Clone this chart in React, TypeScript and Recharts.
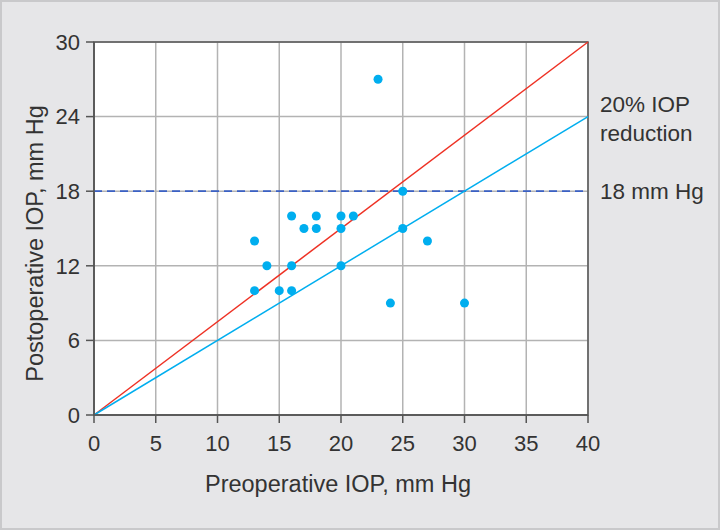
import {
    ScatterChart,
    Scatter,
    XAxis,
    YAxis,
    CartesianGrid,
    ReferenceLine,
    ReferenceArea,
    ReferenceDot,
} from 'recharts';

// preoperative (x) vs postoperative (y) IOP, mm Hg
const preOp = [23, 25, 16, 18, 20, 21, 17, 18, 20, 25, 13, 27, 14, 16, 20, 13, 15, 16, 24, 30];
const postOp = [27, 18, 16, 16, 16, 16, 15, 15, 15, 15, 14, 14, 12, 12, 12, 10, 10, 10, 9, 9];

const xTicks = [0, 5, 10, 15, 20, 25, 30, 35, 40];
const yTicks = [0, 6, 12, 18, 24, 30];

const unchangedLine = [
    { x: 0, y: 0 },
    { x: 40, y: 30 },
];
const reductionLine = [
    { x: 0, y: 0 },
    { x: 40, y: 24 },
];
const thresholdValue = 18;

const points = preOp.map((x, i) => ({ x, y: postOp[i] }));

const font = 'Liberation Sans, Arial, sans-serif';
const textColor = '#333333';
const axisColor = '#555555';
const blue = '#00aeef';
const red = '#ee3124';

const tickStyle = { fontSize: 22, fill: textColor, fontFamily: font };

const YTitle = ({ viewBox }: any) => {
    const x = viewBox.x + 33;
    const y = viewBox.y + viewBox.height / 2 + 15;
    return (
        <text
            x={x}
            y={y}
            transform={`rotate(-90, ${x}, ${y})`}
            textAnchor="middle"
            dominantBaseline="central"
            fontSize={23.5}
            fill={textColor}
            fontFamily={font}
        >
            Postoperative IOP, mm Hg
        </text>
    );
};

const XTitle = ({ viewBox }: any) => (
    <text
        x={viewBox.x + viewBox.width / 2 - 3}
        y={viewBox.y + 69}
        textAnchor="middle"
        dominantBaseline="central"
        fontSize={23.5}
        fill={textColor}
        fontFamily={font}
    >
        Preoperative IOP, mm Hg
    </text>
);

const ReductionLabel = ({ viewBox }: any) => {
    const x = viewBox.x + viewBox.width + 12;
    const y = viewBox.y + viewBox.height / 2;
    return (
        <text fontSize={22.5} fill={textColor} fontFamily={font} dominantBaseline="central">
            <tspan x={x} y={y - 13}>20% IOP</tspan>
            <tspan x={x} y={y + 16}>reduction</tspan>
        </text>
    );
};

const ThresholdLabel = ({ viewBox }: any) => (
    <text
        x={viewBox.x + viewBox.width + 12}
        y={viewBox.y}
        fontSize={22.5}
        fill={textColor}
        fontFamily={font}
        dominantBaseline="central"
    >
        18 mm Hg
    </text>
);

export default function App() {
    return (
        <div
            style={{
                position: 'absolute',
                left: 0,
                top: 0,
                width: 716,
                height: 526,
                border: '2px solid #c9c9cb',
                background: '#e6e6e8',
            }}
        >
            <ScatterChart
                width={716}
                height={526}
                margin={{ top: 40, right: 130, bottom: 0, left: 0 }}
            >
                <CartesianGrid fill="#ffffff" stroke="#b3b3b3" strokeWidth={1.5} />
                <XAxis
                    type="number"
                    dataKey="x"
                    domain={[0, 40]}
                    ticks={xTicks}
                    interval={0}
                    height={113}
                    stroke={axisColor}
                    strokeWidth={1.5}
                    tickSize={8}
                    tickMargin={12}
                    tick={tickStyle}
                    label={XTitle}
                />
                <YAxis
                    type="number"
                    dataKey="y"
                    domain={[0, 30]}
                    ticks={yTicks}
                    interval={0}
                    width={92}
                    stroke={axisColor}
                    strokeWidth={1.5}
                    tickSize={8}
                    tickMargin={6}
                    tick={tickStyle}
                    label={YTitle}
                />
                <ReferenceArea x1={0} x2={40} y1={0} y2={30} fill="none" stroke={axisColor} strokeWidth={1.5} />
                <ReferenceLine
                    y={thresholdValue}
                    stroke="#3a60c4"
                    strokeWidth={1.8}
                    strokeDasharray="8 5"
                    label={ThresholdLabel}
                />
                <ReferenceLine segment={unchangedLine} stroke={red} strokeWidth={1.5} />
                <ReferenceLine segment={reductionLine} stroke={blue} strokeWidth={1.5} />
                <ReferenceDot
                    x={reductionLine[1].x}
                    y={reductionLine[1].y}
                    r={0}
                    fill="none"
                    stroke="none"
                    label={ReductionLabel}
                />
                <Scatter data={points} fill={blue} shape="circle" isAnimationActive={false} />
            </ScatterChart>
        </div>
    );
}
